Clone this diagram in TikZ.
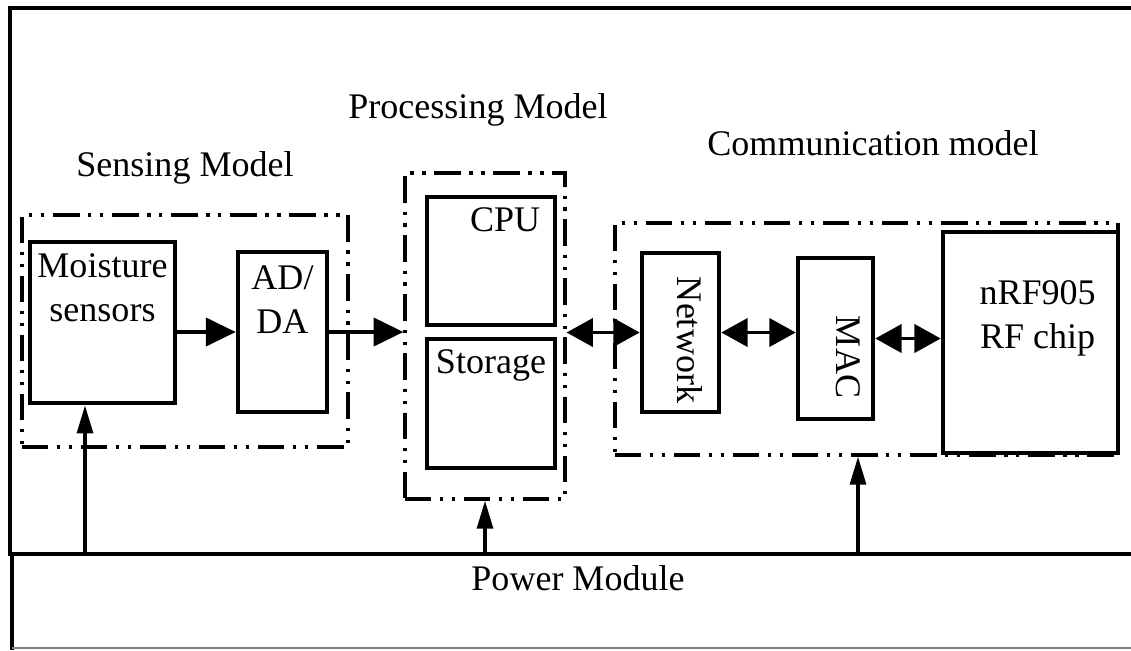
\documentclass[tikz,border=0pt]{standalone}
\usepackage{fontspec}
\setmainfont{Liberation Serif}
\usetikzlibrary{arrows.meta,positioning,fit}

\begin{document}
\begin{tikzpicture}[x=0.02cm,y=-0.02cm,>=Triangle,
 box/.style={draw,line width=2.6pt,inner sep=0pt},
 group/.style={draw,line width=1.8pt,inner sep=0pt,
   dash pattern=on 15pt off 5pt on 1.8pt off 5pt on 1.8pt off 5pt},
 txt/.style={font=\fontsize{20.5}{25}\selectfont,inner sep=0pt,align=center},
 link/.style={line width=2.1pt,-{Triangle[length=17pt,width=16pt]}},
 both/.style={line width=2.1pt,{Triangle[length=15pt,width=16pt]}-{Triangle[length=15pt,width=16pt]}},
 pwr/.style={line width=2.1pt,-{Triangle[length=16pt,width=9pt]}}]
\useasboundingbox (0,0) rectangle (1131,650);
% frame and power module
\draw[line width=2.4pt] (1131,8) -| (10,554) -- (1131,554);
\draw[line width=2.2pt] (12,554) -- (12,650);
\draw[gray,line width=0.8pt] (12,648) -- (1131,648);
\node[txt] (pm) at (578,578) {Power Module};
% sensing
\node[group,fit={(22,215)(348,447)}] (sense) {};
\node[txt] (senselbl) at (185,168) {Sensing Model};
\node[box,fit={(30,242)(175,403)},
  label={[txt,anchor=north,yshift=-8pt]north:Moisture\\sensors}] (ms) {};
\node[box,fit={(238,252)(327,412)},
  label={[txt,anchor=north,yshift=-9pt]north:AD/\\DA}] (ad) {};
% processing
\node[group,fit={(405,173)(565,499)}] (proc) {};
\node[txt] (proclbl) at (478,110) {Processing Model};
\node[box,fit={(427,197)(555,325)},
  label={[txt,anchor=north,xshift=8pt,yshift=-7pt]north:CPU}] (cpu) {};
\node[box,fit={(427,339)(555,468)},
  label={[txt,anchor=north,yshift=-7pt]north:Storage}] (sto) {};
% communication
\node[group,fit={(615,223)(1118,455)}] (comm) {};
\node[txt] (commlbl) at (873,143) {Communication model};
\node[box,fit={(642,253)(719,412)}] (net) {};
\node[txt,rotate=-90] (netlbl) at (690,340) {Network};
\node[box,fit={(798,258)(873,419)}] (mac) {};
\node[txt,rotate=-90] (maclbl) at (848,357) {MAC};
\node[box,fit={(943,232)(1118,453)},
  label={[txt,anchor=north,xshift=4pt,yshift=-29pt]north:nRF905\\RF chip}] (rf) {};
% data flow
\draw[link] (ms.east |- ad.west) -- (ad.west);
\draw[link] (ad.east) -- (proc.west |- ad.east);
\draw[both] (proc.east |- net.west) -- (net.west);
\draw[both] (net.east) -- (mac.west |- net.east);
\draw[both] (mac.east) -- (rf.west |- mac.east);
% power supply
\coordinate (p1) at (85,554);
\coordinate (p2) at (485,554);
\coordinate (p3) at (858,554);
\draw[pwr] (p1) -- (p1 |- ms.south);
\draw[pwr] (p2) -- (p2 |- proc.south);
\draw[pwr] (p3) -- (p3 |- comm.south);
\end{tikzpicture}
\end{document}
